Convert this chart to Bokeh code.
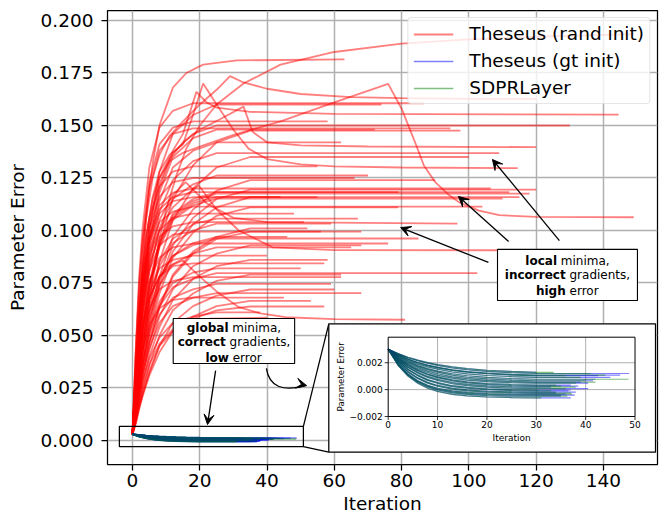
import math
from bokeh.plotting import figure
from bokeh.models import (Range1d, FixedTicker, NumeralTickFormatter, Arrow, VeeHead,
                          ColumnDataSource, Legend, LegendItem)
from bokeh.core.properties import value
from bokeh.embed import file_html
from bokeh.resources import INLINE

# ---------------- data ----------------
# Theseus (rand init): iterations and parameter error (x 1e-3) per run
rand_iters = [
    [0,2,4,6,8,10,13,16,20,25,33,44,60,80,100,125,149],
    [0,1,2,3,4,5,6,8,10,12,16,21,31,63],
    [0,1,2,3,4,6,8,11,15,20,25,29,33,40,50,65,80,100,120],
    [0,1,2,3,4,6,8,11,15,18,21,25,30,34.5,40,50,60,80,114.5],
    [0,1,2,3,5,8,12,15,19,22,25,35,60,144.5],
    [0,1,2,3,4,6,8,11,15,20,26,33,35.7,40,50,70,120],
    [0,1,2,3,4,6,8,11,15,20,30,44,60,76,80,84,86.6,90,94,97,103,109,120,149],
    [0,1,2,3,5,8,12,18,86.6],
    [0,1,2,3,5,8,12,18,25,74],
    [0,1,2,3,5,8,12,18,25,130],
    [0,1,2,3,5,8,12,18,94.5],
    [0,1,2,3,5,8,12,18,25,35,97.5],
    [0,1,2,3,5,8,12,18,25,72],
    [0,1,2,3,5,8,12,18,25,109],
    [0,1,2,3,5,8,12,18,25,35,100],
    [0,1,2,3,5,8,12,18,55],
    [0,1,2,3,5,8,12,18,25,70],
    [0,1,2,3,5,8,12,18,106.5],
    [0,1,2,3,5,8,12,18,25,35,120],
    [0,1,2,3,5,8,12,18,25,112],
    [0,1,2,3,5,8,12,18,79],
    [0,1,2,3,5,8,12,18,25,118],
    [0,1,2,3,5,8,12,18,25,35,115],
    [0,1,2,3,5,8,12,18,55],
    [0,1,2,3,5,8,12,18,25,110],
    [0,1,2,3,5,8,12,18,104],
    [0,1,2,3,5,8,12,18,25,35,79],
    [0,1,2,3,5,8,12,18,25,67],
    [0,1,2,3,5,8,12,18,51],
    [0,1,2,3,5,8,12,15.8,22,30,40,96.6],
    [0,1,2,3,5,8,12,18,25,59],
    [0,1,2,3,5,8,12,18,25,35,68],
    [0,1,2,3,5,8,12,18,56],
    [0,1,2,3,5,8,12,18,25,85],
    [0,1,2,3,5,8,12,18,76],
    [0,1,2,3,5,8,12,18,25,35,68],
    [0,1,2,3,5,8,12,18,25,65],
    [0,1,2,3,5,8,12,16,19.7,25,31.6,41.6,60,150],
    [0,1,2,3,5,8,12,18,57],
    [0,1,2,3,5,8,12,18,25,102.5],
    [0,1,2,3,5,8,12,18,25,35,62],
    [0,1,2,3,5,8,12,18,62],
    [0,1,2,3,5,8,12,18,25,59],
    [0,1,2,3,5,8,12,18,25,35,60],
    [0,1,2,3,5,8,12,18,25,68],
    [0,1,2,3,5,8,12,18,25,35,57],
    [0,1,2,3,5,8,11,15,20,25,31.6,38,45.5,60,81],
    [0,1,2,3,5,8,12,16,23,40],
    [0,1,2,3,5,8,12,18,25,44],
    [0,1,2,3,5,8,12,18,48],
    [0,1,2,3,5,8,12,18,25,35,52],
    [0,1,2,3,5,8,12,18,25,46],
    [0,1,2,3,5,8,12,18,40],
    [0,1,2,3,5,8,12,18,25,35,58],
    [0,1,2,3,5,8,12,18,25,50],
    [0,1,2,3,5,8,12,18,45],
    [0,1,2,3,5,8,12,18,25,35,53],
    [0,1,2,3,5,8,12,18,25,38],
    [0,1,2,3,5,8,12,18,66],
    [0,1,2,3,5,8,12,18,25,62],
    [0,1,2,3,5,8,12,18,25,35,90],
    [0,1,2,3,5,8,12,18,58],
]
rand_err_milli = [
    [3,30,55,78,96,110,126,139,150,160,170,179,185,189,191,192.5,193.5],
    [3,30,60,85,105,120,132,150,159,168,175,179,181,181.5],
    [3,35,65,88,105,125,136,145,152,160,167,173.5,170.5,167.5,165,163.5,163,162.7,162.7],
    [3,30,58,80,96,116,128,136,141,155,170,160,148,139,134,131.5,130.5,130,129.7],
    [3,30,55,75,102,125,138,146,166,161,158.5,156.5,155.5,155.2],
    [3,25,50,70,86,108,122,134,142,148,153,159,147,142,140.5,140,139.7],
    [3,30,58,80,97,115,125,133,137,140,145.5,152,161,169.8,158,142,131,123,117,113.5,109.5,107.3,106.5,106.3],
    [3,45,79,101,130,149,157,160.6,160.6],
    [3,29,53,72,101,128,146,155,160,160],
    [3,27,50,68,95,120,137,146,150,150],
    [3,42,73,94,120,138,146,148.6,148.6],
    [3,18,32,46,68,93,115,131,142,147.6,147.6],
    [3,27,49,67,93,118,135,144,148,148],
    [3,25,45,62,86,109,124,133,136.8,136.8],
    [3,16,30,42,62,85,105,120,130,135,135],
    [3,37,64,82,106,121,128,130.5,130.5],
    [3,23,42,57,80,101,115,122,126.2,126.2],
    [3,34,59,76,97,112,118,120,120],
    [3,14,26,37,55,75,93,106,115,119.5,119.5],
    [3,21,39,53,75,95,108,115,118.3,118.3],
    [3,33,58,75,96,110,116,118.3,118.3],
    [3,21,39,53,74,94,107,114,117.6,117.6],
    [3,14,25,36,53,73,90,103,111,115.9,115.9],
    [3,32,57,73,94,108,114,115.9,115.9],
    [3,21,38,52,73,92,105,112,115.2,115.2],
    [3,31,55,70,90,104,109,111.4,111.4],
    [3,13,24,34,51,70,87,99,107,111,111],
    [3,19,35,48,67,85,96,103,105.7,105.7],
    [3,29,51,66,84,97,102,104,104],
    [3,25,45,62,85,105,117,123,113,106,104,103.3],
    [3,19,34,47,65,83,94,100,103.3,103.3],
    [3,12,22,31,46,63,78,89,96,99.5,99.5],
    [3,28,49,63,81,93,98,99.5,99.5],
    [3,17,32,43,61,77,88,93,96.2,96.2],
    [3,26,46,59,76,87,92,93.8,93.8],
    [3,11,20,29,43,59,72,83,89,92.9,92.9],
    [3,17,30,41,58,74,84,89,92,92],
    [3,24,44,60,82,100,111,117,121.4,110,100,92,90.7,90.5],
    [3,24,41,53,68,78,83,84.3,84.3],
    [3,14,26,36,50,64,73,77,79.7,79.7],
    [3,9,17,24,36,50,62,70,76,79,79],
    [3,22,38,49,63,72,76,77.8,77.8],
    [3,13,25,34,47,60,68,72,74.6,74.6],
    [3,9,16,22,33,45,56,64,69,71.9,71.9],
    [3,13,23,32,44,56,64,68,70.2,70.2],
    [3,10,18,25,36,46,53,58,62,63.8,63.8],
    [3,22,40,53,68,78,83,85.7,78,71,63.5,60.5,58.7,57.8,57.5],
    [3,9,16,22,32,45,52,55.7,58,58.5],
    [3,21,38,52,73,93,106,113,116,116],
    [3,30,53,68,88,100,106,108,108],
    [3,12,22,31,47,64,79,90,97,101,101],
    [3,17,32,44,61,78,88,94,97,97],
    [3,25,43,56,71,82,86,88,88],
    [3,10,19,27,40,54,67,77,83,86,86],
    [3,15,27,37,52,66,75,80,82,82],
    [3,19,34,43,55,63,67,68,68],
    [3,8,15,21,31,42,52,59,64,66.5,66.5],
    [3,11,20,28,39,49,56,59,61,61],
    [3,35,61,79,101,116,123,125,125],
    [3,26,47,64,90,114,130,138,142,142],
    [3,15,27,38,57,78,97,110,119,124,124],
    [3,43,75,96,123,141,149,152,152],
]

# Theseus (gt init) and SDPRLayer: shared decay profiles (x 1e-3), different run lengths
low_iters = [0, 2, 4, 6, 8, 10, 13, 16, 20, 25, 30]
low_err_milli = [
    [3,2.68,2.41,2.19,2.01,1.87,1.69,1.56,1.44,1.35,1.29],
    [3,2.66,2.37,2.15,1.96,1.80,1.61,1.48,1.36,1.26,1.20],
    [3,2.60,2.28,2.02,1.82,1.66,1.47,1.34,1.22,1.13,1.08],
    [3,2.59,2.26,2.00,1.79,1.63,1.43,1.30,1.18,1.08,1.03],
    [3,2.55,2.19,1.90,1.69,1.52,1.31,1.17,1.05,0.97,0.91],
    [3,2.50,2.11,1.79,1.56,1.38,1.18,1.03,0.91,0.82,0.77],
    [3,2.47,2.06,1.73,1.49,1.30,1.08,0.92,0.80,0.71,0.66],
    [3,2.42,1.97,1.64,1.38,1.18,0.95,0.82,0.69,0.61,0.56],
    [3,2.36,1.89,1.53,1.27,1.06,0.85,0.71,0.60,0.52,0.49],
    [3,2.33,1.83,1.45,1.16,0.95,0.72,0.57,0.45,0.38,0.34],
    [3,2.31,1.79,1.40,1.11,0.89,0.65,0.50,0.38,0.30,0.26],
    [3,2.24,1.69,1.29,0.98,0.76,0.53,0.39,0.28,0.21,0.18],
    [3,2.22,1.64,1.23,0.91,0.68,0.45,0.30,0.19,0.11,0.08],
    [3,2.15,1.51,1.08,0.74,0.53,0.29,0.16,0.06,0.00,-0.03],
    [3,2.13,1.47,1.03,0.69,0.47,0.22,0.10,-0.01,-0.07,-0.10],
    [3,2.04,1.34,0.87,0.54,0.31,0.10,-0.02,-0.12,-0.16,-0.19],
    [3,2.02,1.30,0.83,0.48,0.25,0.04,-0.09,-0.19,-0.23,-0.26],
    [3,1.89,1.16,0.66,0.32,0.10,-0.10,-0.21,-0.29,-0.33,-0.34],
    [3,1.87,1.12,0.61,0.26,0.04,-0.17,-0.28,-0.36,-0.40,-0.41],
    [3,1.85,1.08,0.55,0.20,-0.03,-0.24,-0.36,-0.44,-0.48,-0.49],
    [3,1.81,1.01,0.47,0.10,-0.13,-0.35,-0.47,-0.55,-0.59,-0.61],
]
sdpr_end = [33.5, 41, 44, 36, 39, 48.7, 40, 42, 38, 34, 35, 38, 36, 30.5, 33, 34, 37, 37.3, 35, 36.3, 31]
gt_end = [30, 48.8, 47, 42.5, 45, 42, 41.5, 39, 40.5, 37, 38.5, 33, 40.5, 37, 36.5, 38, 34, 36, 37.8, 35, 37]

x_ticks = [0, 20, 40, 60, 80, 100, 120, 140]
y_ticks = [0.0, 0.025, 0.05, 0.075, 0.1, 0.125, 0.15, 0.175, 0.2]
inset_x_ticks = [0, 10, 20, 30, 40, 50]
inset_y_ticks = [-0.002, 0.0, 0.002]
inset_y_labels = ["\u22120.002", "0.000", "0.002"]

legend_labels = ["Theseus (rand init)", "Theseus (gt init)", "SDPRLayer"]

FONT = "DejaVu Sans"
RED, BLUE, GREEN = "#ff0000", "#0000ff", "#008000"

# ---------------- build series ----------------
rand_xs = rand_iters
rand_ys = [[v / 1000.0 for v in c] for c in rand_err_milli]


def run_line(prof, end):
    px = [x for x in low_iters if x < end] + [end]
    py = [v / 1000.0 for x, v in zip(low_iters, prof) if x < end] + [prof[-1] / 1000.0]
    return px, py


# each run is drawn as gt init then SDPRLayer, so the two series interleave like the original
low_xs, low_ys, low_colors = [], [], []
for prof, ge, se in zip(low_err_milli, gt_end, sdpr_end):
    for end, col in ((ge, BLUE), (se, GREEN)):
        px, py = run_line(prof, end)
        low_xs.append(px)
        low_ys.append(py)
        low_colors.append(col)
low_src = ColumnDataSource(dict(xs=low_xs, ys=low_ys, color=low_colors))

p = figure(width=659, height=520, output_backend="svg", toolbar_location=None,
           x_range=Range1d(-7.43, 156.06), y_range=Range1d(-0.01143, 0.20476),
           min_border_left=107, min_border_right=2, min_border_top=10, min_border_bottom=56)
p.background_fill_color = "white"
p.border_fill_color = "white"
p.outline_line_color = "black"
p.outline_line_width = 1.25

for ax, ticks in ((p.xaxis, x_ticks), (p.yaxis, y_ticks)):
    ax.ticker = FixedTicker(ticks=ticks)
    ax.axis_line_color = None
    ax.major_tick_line_color = "black"
    ax.major_tick_line_width = 1.25
    ax.major_tick_out = 6
    ax.major_tick_in = 0
    ax.minor_tick_line_color = None
    ax.major_label_text_font = FONT
    ax.major_label_text_font_size = "18.5px"
    ax.major_label_text_color = "black"
    ax.axis_label_text_font = FONT
    ax.axis_label_text_font_size = "18.5px"
    ax.axis_label_text_font_style = "normal"
    ax.axis_label_text_color = "black"
p.xaxis.major_label_standoff = 3
p.xaxis.axis_label = "Iteration"
p.xaxis.axis_label_standoff = 3
p.yaxis.major_label_standoff = 8
p.yaxis.formatter = NumeralTickFormatter(format="0.000")
p.yaxis.axis_label = "Parameter Error"
p.yaxis.axis_label_standoff = 10

p.xgrid.ticker = FixedTicker(ticks=x_ticks)
p.ygrid.ticker = FixedTicker(ticks=y_ticks)
for g in (p.xgrid, p.ygrid):
    g.grid_line_color = "#b0b0b0"
    g.grid_line_width = 1.5

# main series
r_rand = p.multi_line(rand_xs, rand_ys, line_color=RED, line_alpha=0.5, line_width=1.8)
r_low = p.multi_line(xs="xs", ys="ys", source=low_src, line_color="color",
                     line_alpha=0.5, line_width=1.5)

legend = Legend(items=[
    LegendItem(label=legend_labels[0], renderers=[r_rand]),
    LegendItem(label=legend_labels[1], renderers=[r_low], index=0),
    LegendItem(label=legend_labels[2], renderers=[r_low], index=1),
], location="top_right")
legend.label_text_font = FONT
legend.label_text_font_size = "18.5px"
legend.label_text_color = "black"
legend.glyph_width = 40
legend.glyph_height = 20
legend.label_standoff = 16
legend.padding = 5
legend.spacing = 6
legend.margin = 7
legend.border_line_color = "#cccccc"
legend.border_line_width = 1
legend.background_fill_alpha = 0.8
if "border_radius" in Legend.properties():
    legend.border_radius = 4
p.add_layout(legend)

# zoom rectangle and connectors
p.quad(left=[-3.9], right=[50.8], bottom=[-0.0029], top=[0.0067], fill_color=None,
       line_color="black", line_width=1.25, level="overlay")
p.segment(x0=[50.8, 50.8], y0=[0.0067, -0.0029], x1=[58.35, 58.35], y1=[0.05557, -0.00557],
          line_color="black", line_width=1.25, level="overlay")
# inset background box
p.quad(left=[58.35], right=[155.47], bottom=[-0.00557], top=[0.05557], fill_color="white",
       line_color="black", line_width=1.25, level="overlay")

# inset axes (mapped into the main plot)
sub = p.subplot(x_source=Range1d(0, 50), y_source=Range1d(-0.002, 0.0039),
                x_target=Range1d(76.01, 149.38), y_target=Range1d(0.011429, 0.04919))
sub.segment(x0=inset_x_ticks[1:-1], y0=-0.002, x1=inset_x_ticks[1:-1], y1=0.0039,
            line_color="#b0b0b0", line_width=1, level="overlay")
sub.segment(x0=0, y0=inset_y_ticks[1:], x1=50, y1=inset_y_ticks[1:],
            line_color="#b0b0b0", line_width=1, level="overlay")
sub.multi_line(xs="xs", ys="ys", source=low_src, line_color="color", line_alpha=0.5,
               line_width=1.2, level="overlay")
sub.quad(left=[0], right=[50], bottom=[-0.002], top=[0.0039], fill_color=None,
         line_color="black", line_width=1, level="overlay")
sub.ray(x=inset_x_ticks, y=-0.002, length=3.5, length_units="screen", angle=-math.pi / 2,
        line_color="black", line_width=0.8, level="overlay")
sub.ray(x=0, y=inset_y_ticks, length=3.5, length_units="screen", angle=math.pi,
        line_color="black", line_width=0.8, level="overlay")
sub.text(x=inset_x_ticks, y=-0.002, text=[str(t) for t in inset_x_ticks], y_offset=5,
         text_align="center", text_baseline="top", text_font=value(FONT),
         text_font_size="9px", text_color="black", level="overlay")
sub.text(x=0, y=inset_y_ticks, text=inset_y_labels, x_offset=-5.5,
         text_align="right", text_baseline="middle", text_font=value(FONT),
         text_font_size="9px", text_color="black", level="overlay")
sub.text(x=[25], y=[-0.002], text=["Iteration"], y_offset=21.5, text_align="center",
         text_baseline="middle", text_font=value(FONT), text_font_size="9px",
         text_color="black", level="overlay")
sub.text(x=[0], y=[0.00095], text=["Parameter Error"], x_offset=-47, angle=math.pi / 2,
         text_align="center", text_baseline="middle", text_font=value(FONT),
         text_font_size="8.7px", text_color="black", level="overlay")

# annotation boxes
p.quad(left=[12.1, 108.5], right=[48.2, 150.1], bottom=[0.0367, 0.0667], top=[0.0581, 0.0910],
       fill_color="white", line_color="black", line_width=1.1, level="overlay")
bold_parts = ["global", "correct", "low", "local", "incorrect", "high"]
normal_parts = ["minima,", "gradients,", "error", "minima,", "gradients,", "error"]
line_x = [30.15, 30.15, 30.15, 129.3, 129.3, 129.3]
line_y = [0.0538, 0.0467, 0.0395, 0.0857, 0.0786, 0.0714]
anchor_dx = [-5.4, -8.1, -5.0, -10.45, -1.8, -1.75]
p.text(x=line_x, y=line_y, text=bold_parts, x_offset=anchor_dx, text_align="right",
       text_baseline="middle", text_font=value(FONT), text_font_size="12px",
       text_font_style="bold", text_color="black", level="overlay")
p.text(x=line_x, y=line_y, text=normal_parts, x_offset=[d + 3.8 for d in anchor_dx],
       text_align="left", text_baseline="middle", text_font=value(FONT),
       text_font_size="12px", text_color="black", level="overlay")

# arrows
arrows = [((105.8, 0.0848), (79.7, 0.1014)), ((111.8, 0.0948), (96.9, 0.1162)),
          ((126.9, 0.0952), (107.0, 0.1338)), ((24.7, 0.0333), (22.3, 0.0076)),
          ((50.6, 0.0266), (51.7, 0.0262))]
for (xs0, ys0), (xe, ye) in arrows:
    p.add_layout(Arrow(end=VeeHead(size=10, fill_color="black", line_color="black"),
                       x_start=xs0, y_start=ys0, x_end=xe, y_end=ye,
                       line_color="black", line_width=1.3))
p.quadratic(x0=[39.8], y0=[0.0343], x1=[51.7], y1=[0.0262], cx=[41.0], cy=[0.0214],
            line_color="black", line_width=1.3, level="overlay")

open("out.html", "w").write(file_html(p, INLINE))
